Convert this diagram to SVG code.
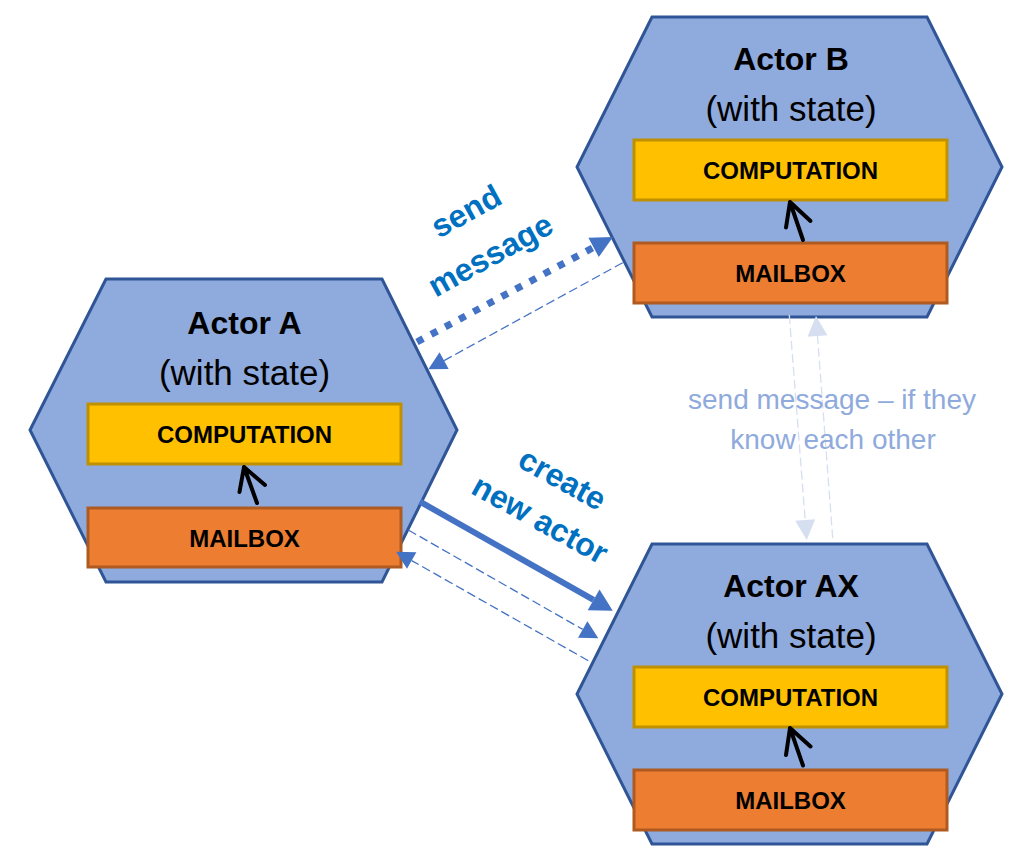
<svg xmlns="http://www.w3.org/2000/svg" width="1036" height="860" viewBox="0 0 1036 860">
<style>
.hex{fill:#8FAADC;stroke:#2F5597;stroke-width:3;stroke-linejoin:miter}
.comp{fill:#FFC000;stroke:#BF9000;stroke-width:3}
.mail{fill:#ED7D31;stroke:#AE5A21;stroke-width:3}
.title{font-family:"Liberation Sans",Arial,sans-serif;font-weight:bold;font-size:32px;fill:#000;text-anchor:middle}
.sub{font-family:"Liberation Sans",Arial,sans-serif;font-size:35px;fill:#000;text-anchor:middle}
.box{font-family:"Liberation Sans",Arial,sans-serif;font-weight:bold;font-size:24px;fill:#000;text-anchor:middle}
.inner{fill:none;stroke:#000;stroke-width:4;stroke-linecap:round;stroke-linejoin:round}
.lbl{font-family:"Liberation Sans",Arial,sans-serif;font-weight:bold;font-size:32px;fill:#0070C0;text-anchor:middle}
.lbl2{font-family:"Liberation Sans",Arial,sans-serif;font-size:28px;fill:#8FAADC;text-anchor:middle}
.c{fill:none;stroke:#4472C4}
.thin{stroke-width:1.3;stroke-dasharray:9 4}
.light{fill:none;stroke:#D6DFF0;stroke-width:1.3;stroke-dasharray:9 4}
</style>
<defs>
<marker id="hBig" markerUnits="userSpaceOnUse" orient="auto" refX="0" refY="0" markerWidth="30" markerHeight="30" overflow="visible"><path d="M0,-12 L22,0 L0,12 Z" fill="#4472C4"/></marker>
<marker id="hDot" markerUnits="userSpaceOnUse" orient="auto" refX="0" refY="0" markerWidth="30" markerHeight="30" overflow="visible"><path d="M0,-11 L22,0 L0,11 Z" fill="#4472C4"/></marker>
<marker id="hThin" markerUnits="userSpaceOnUse" orient="auto" refX="0" refY="0" markerWidth="30" markerHeight="30" overflow="visible"><path d="M0,-9.5 L18,0 L0,9.5 Z" fill="#4472C4"/></marker>
<marker id="hLight" markerUnits="userSpaceOnUse" orient="auto" refX="0" refY="0" markerWidth="30" markerHeight="30" overflow="visible"><path d="M0,-10 L20,0 L0,10 Z" fill="#D6DFF0"/></marker>
</defs>
<rect width="1036" height="860" fill="#fff"/>

<g id="actor-a">
<polygon class="hex" points="106,279 382,279 457,430 382,582 106,582 30,430"/>
<text class="title" x="244.5" y="334">Actor A</text>
<text class="sub" x="244.5" y="385">(with state)</text>
<rect class="comp" x="88" y="404" width="313" height="60"/>
<text class="box" x="244.5" y="443">COMPUTATION</text>
<rect class="mail" x="88" y="508" width="313" height="59"/>
<text class="box" x="244.5" y="547">MAILBOX</text>
<path class="inner" d="M257,503 L244,467 M239.5,492 L244,467 L265,485"/>
</g>

<g id="actor-b">
<polygon class="hex" points="652,17 927,17 1002,167 927,317 652,317 577,167"/>
<text class="title" x="791" y="70">Actor B</text>
<text class="sub" x="791" y="121">(with state)</text>
<rect class="comp" x="634" y="140" width="313" height="60"/>
<text class="box" x="790.5" y="179">COMPUTATION</text>
<rect class="mail" x="634" y="243" width="313" height="60"/>
<text class="box" x="790.5" y="282">MAILBOX</text>
<path class="inner" d="M803,240 L790,202 M786,227.5 L790,202 L810.5,221"/>
</g>

<g id="actor-ax">
<polygon class="hex" points="652,544 927,544 1002,694 927,844 652,844 577,694"/>
<text class="title" x="791" y="597">Actor AX</text>
<text class="sub" x="791" y="648">(with state)</text>
<rect class="comp" x="634" y="667" width="313" height="60"/>
<text class="box" x="790.5" y="706">COMPUTATION</text>
<rect class="mail" x="634" y="770" width="313" height="60"/>
<text class="box" x="790.5" y="809">MAILBOX</text>
<path class="inner" d="M803,765.5 L790,728 M786,755 L790,728 L810.5,746.5"/>
</g>

<g id="connectors">
<line class="c" x1="417" y1="342" x2="593.6" y2="247.4" stroke-width="7" stroke-dasharray="7 9" marker-end="url(#hDot)"/>
<line class="c thin" x1="622.7" y1="262.7" x2="444.1" y2="360.6" marker-end="url(#hThin)"/>
<line class="c" x1="420" y1="501.7" x2="593.6" y2="599.9" stroke-width="6" marker-end="url(#hBig)"/>
<line class="c thin" x1="408.3" y1="530" x2="582.7" y2="629.4" marker-end="url(#hThin)"/>
<line class="c thin" x1="588.3" y1="660.7" x2="411.7" y2="560.6" marker-end="url(#hThin)"/>
<line class="light" x1="789.3" y1="315" x2="805.2" y2="520.1" marker-end="url(#hLight)"/>
<line class="light" x1="832.7" y1="538.3" x2="817.5" y2="335.9" marker-end="url(#hLight)"/>
</g>

<g id="labels">
<g transform="rotate(-29 482 240)">
<text class="lbl" x="482" y="218">send</text>
<text class="lbl" x="482" y="268">message</text>
</g>
<g transform="rotate(29 547 507)">
<text class="lbl" x="547" y="486">create</text>
<text class="lbl" x="547" y="532">new actor</text>
</g>
<text class="lbl2" x="832" y="409">send message – if they</text>
<text class="lbl2" x="833" y="449">know each other</text>
</g>
</svg>
